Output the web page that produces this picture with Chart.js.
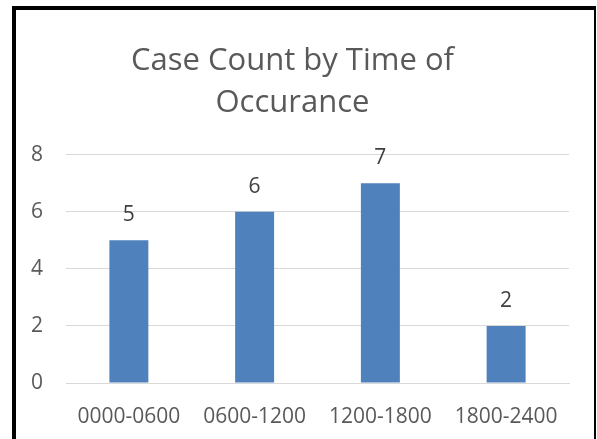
<!DOCTYPE html>
<html>
<head>
<meta charset="utf-8">
<script src="https://cdn.jsdelivr.net/npm/chart.js@4"></script>
<style>
  html, body { margin: 0; padding: 0; background: #fff; }
  body { width: 597px; height: 439px; position: relative; overflow: hidden; }
  #frame {
    position: absolute; left: 12px; top: 6px;
    width: 578px; height: 440px;
    border-left: 4px solid #000; border-top: 4px solid #000; border-right: 2px solid #000;
  }
  #box { position: absolute; left: 0; top: 0; width: 578px; height: 429px; }
</style>
</head>
<body>
<div id="frame"><div id="box"><canvas id="chart"></canvas></div></div>
<script>
const titleLines = ['Case Count by Time of', 'Occurance'];
const timeRanges = ['0000-0600', '0600-1200', '1200-1800', '1800-2400'];
const caseCounts = [5, 6, 7, 2];
const yTicks = [0, 2, 4, 6, 8];

// small plugin to draw the value labels above bars
const valueLabels = {
  id: 'valueLabels',
  afterDatasetsDraw(chart) {
    const ctx = chart.ctx;
    const meta = chart.getDatasetMeta(0);
    ctx.save();
    ctx.font = '21px "Open Sans"';
    ctx.fillStyle = '#404040';
    ctx.textAlign = 'center';
    ctx.textBaseline = 'middle';
    meta.data.forEach((bar, i) => {
      ctx.fillText(String(caseCounts[i]), bar.x, bar.y - 25);
    });
    ctx.restore();
  }
};

new Chart(document.getElementById('chart'), {
  type: 'bar',
  data: {
    labels: timeRanges,
    datasets: [{
      data: caseCounts,
      backgroundColor: '#4F81BD',
      borderWidth: 0,
      barPercentage: 1,
      categoryPercentage: 0.31
    }]
  },
  options: {
    responsive: true,
    maintainAspectRatio: false,
    animation: false,
    layout: { padding: { left: 0, right: 25, top: 0, bottom: 0 } },
    plugins: {
      legend: { display: false },
      tooltip: { enabled: false },
      title: {
        display: true,
        text: titleLines,
        color: '#595959',
        font: { family: 'Open Sans', size: 31, weight: 'normal', lineHeight: 1.35 },
        padding: { top: 30, bottom: 31 }
      }
    },
    scales: {
      x: {
        afterFit: (scale) => { scale.height = 56; },
        grid: { display: false, drawTicks: false },
        border: { display: true, color: '#d9d9d9', width: 1 },
        ticks: {
          color: '#595959',
          font: { family: 'Open Sans', size: 21 },
          padding: 21,
          maxRotation: 0
        }
      },
      y: {
        min: 0,
        max: 8,
        afterBuildTicks: (scale) => { scale.ticks = yTicks.map(v => ({ value: v })); },
        afterFit: (scale) => { scale.width = 50; },
        grid: { color: '#d9d9d9', lineWidth: 1, drawTicks: false },
        border: { display: false },
        ticks: {
          color: '#595959',
          font: { family: 'Open Sans', size: 21 },
          padding: 23
        }
      }
    }
  },
  plugins: [valueLabels]
});
</script>
</body>
</html>
